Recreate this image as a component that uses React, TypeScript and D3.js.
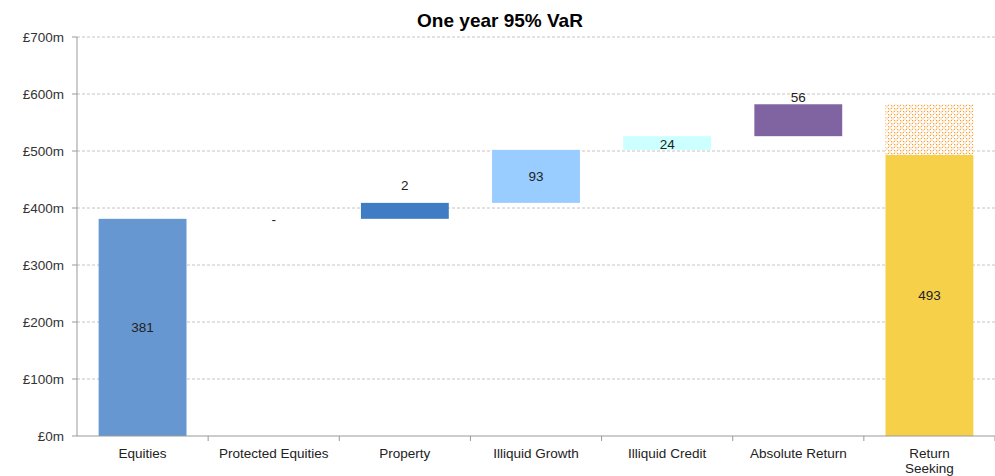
import React from "react";
import * as d3 from "d3";

const categories = ["Equities", "Protected Equities", "Property", "Illiquid Growth", "Illiquid Credit", "Absolute Return", "Return Seeking"];
const barStarts = [0, 381, 381, 409, 502, 526, 0];
const barValues = [381, 0, 28, 93, 24, 56, 493];
const labels = ["381", "-", "2", "93", "24", "56", "493"];
const colors = ["#6797D0", "none", "#3F7CC4", "#99CCFF", "#CCFFFF", "#8064A2", "#F7D04A"];
const diversificationTop = 582;
const yTicks = [0, 100, 200, 300, 400, 500, 600, 700];

export default function App() {
  const W = 995, H = 476;
  const left = 77, right = 995, top = 37, bottom = 436;
  const x = d3.scaleBand().domain(categories).range([left, right]).paddingInner(0.33).paddingOuter(0.165);
  const xStep = d3.scaleBand().domain(categories).range([left, right]);
  const y = d3.scaleLinear().domain([0, 700]).range([bottom, top]);
  const font = "Liberation Sans, Arial, sans-serif";
  const fs = 13.5;
  // label baseline relative to bar geometry
  const labelY = (i: number) => {
    const s = barStarts[i], v = barValues[i];
    switch (i) {
      case 1: return y(s) + 5;
      case 2: return y(s + v) - 13;
      case 4: return y(s) - 1;
      case 5: return y(s + v) - 2;
      default: return y(s + v / 2) + 5;
    }
  };
  return (
    <svg width={W} height={H} style={{ position: "absolute", left: 0, top: 0, background: "#fff" }} fontFamily={font}>
      <defs>
        <pattern id="dots" width="6" height="6" patternUnits="userSpaceOnUse">
          <rect width="6" height="6" fill="#fff" />
          <rect x="0" y="0" width="3" height="3" fill="#FDE8CC" />
          <rect x="3" y="3" width="3" height="3" fill="#FDE8CC" />
          <rect x="0" y="0" width="1" height="1" fill="#F5A040" />
          <rect x="3" y="0" width="1" height="1" fill="#F5A040" />
          <rect x="0" y="3" width="1" height="1" fill="#F5A040" />
          <rect x="3" y="3" width="1" height="1" fill="#F5A040" />
        </pattern>
      </defs>
      <text x={500} y={27} textAnchor="middle" fontSize={19} fontWeight="bold" fill="#000">One year 95% VaR</text>
      {yTicks.map((t) => (
        <g key={t}>
          {t > 0 && <line x1={left} x2={right} y1={y(t)} y2={y(t)} stroke="#C4C4C4" strokeDasharray="3,2" strokeWidth={1} />}
          <line x1={left - 5} x2={left} y1={y(t)} y2={y(t)} stroke="#999" />
          <text x={64} y={y(t) + 5} textAnchor="end" fontSize={fs} fill="#333">£{t}m</text>
        </g>
      ))}
      {categories.map((c, i) => {
        if (barValues[i] === 0) return null;
        const y0 = y(barStarts[i]);
        const y1 = y(barStarts[i] + barValues[i]);
        return <rect key={c} x={x(c)} width={x.bandwidth()} y={y1} height={y0 - y1} fill={colors[i]} />;
      })}
      <rect x={x(categories[6])} width={x.bandwidth()} y={y(diversificationTop)} height={y(barValues[6]) - y(diversificationTop)} fill="url(#dots)" />
      <line x1={left} x2={left} y1={top} y2={bottom} stroke="#999" />
      <line x1={left} x2={right} y1={bottom} y2={bottom} stroke="#999" />
      {categories.map((c) => (
        <line key={c} x1={(xStep(c) as number) + xStep.bandwidth()} x2={(xStep(c) as number) + xStep.bandwidth()} y1={bottom} y2={bottom + 5} stroke="#999" />
      ))}
      {categories.map((c, i) => {
        const cx = (x(c) as number) + x.bandwidth() / 2;
        return <text key={c} x={cx} y={labelY(i)} textAnchor="middle" fontSize={fs} fill="#222">{labels[i]}</text>;
      })}
      {categories.map((c) => {
        const cx = (x(c) as number) + x.bandwidth() / 2;
        const words = c === "Return Seeking" ? ["Return", "Seeking"] : [c];
        return words.map((w, j) => (
          <text key={c + j} x={cx} y={458 + j * 15} textAnchor="middle" fontSize={fs} fill="#222">{w}</text>
        ));
      })}
    </svg>
  );
}
